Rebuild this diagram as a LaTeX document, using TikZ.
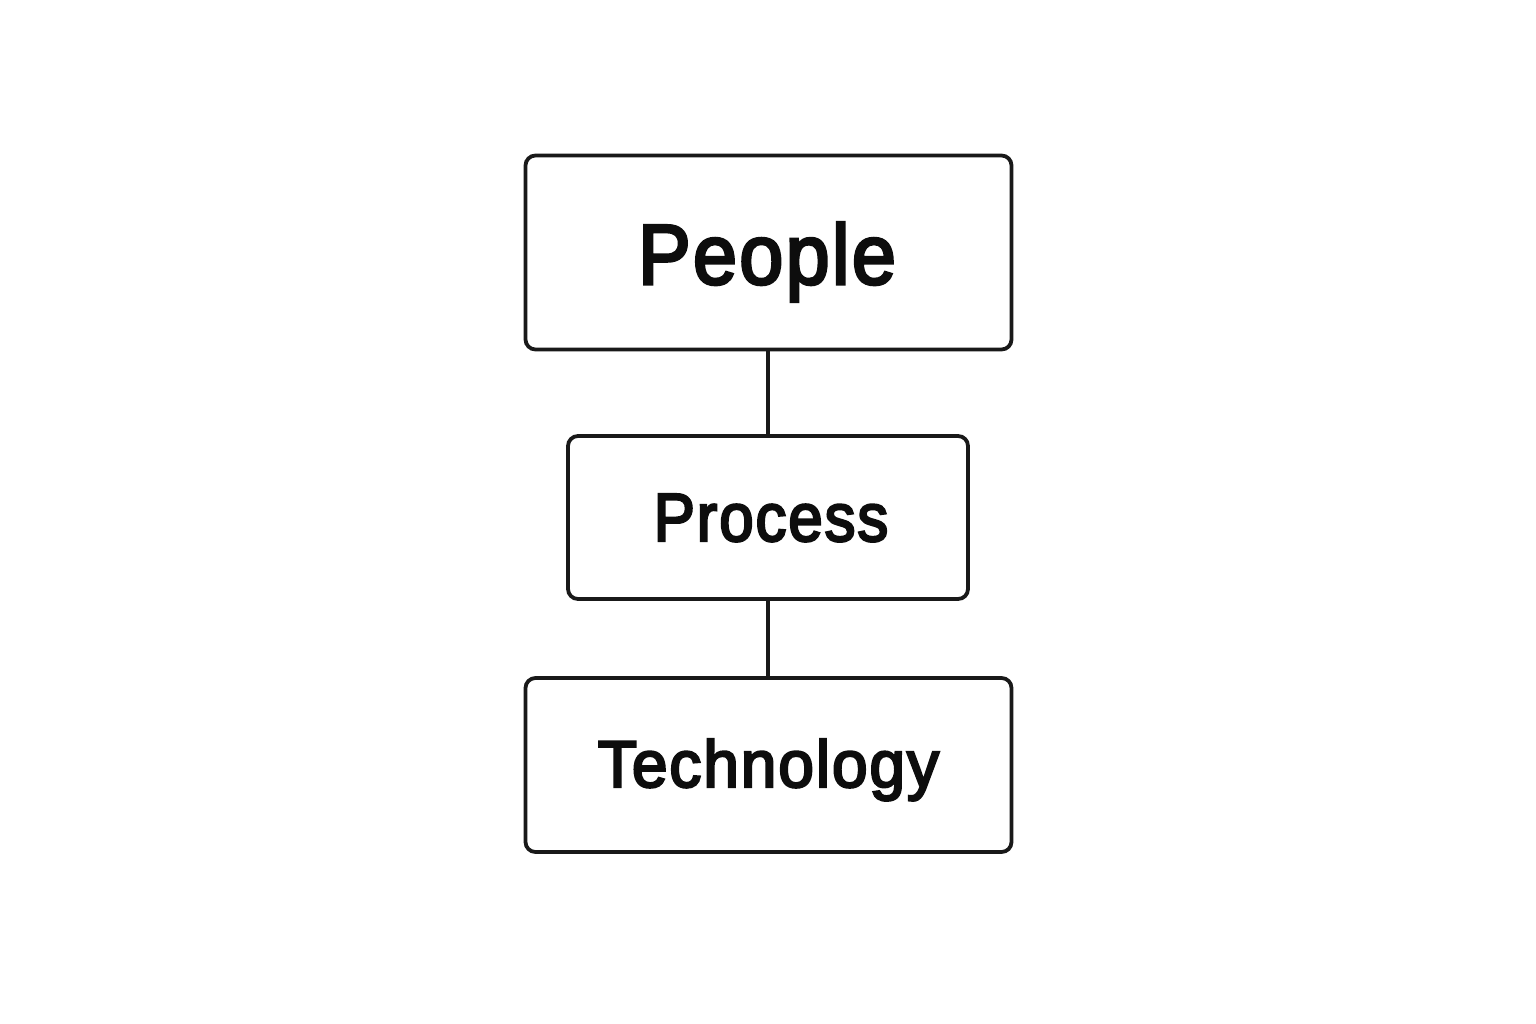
\documentclass[tikz,border=0pt]{standalone}
\usepackage{fontspec}
\setmainfont{Liberation Sans}
\newfontfamily\semibf[FakeBold=3.6,LetterSpace=3]{Liberation Sans}
\begin{document}
\begin{tikzpicture}[x=1pt,y=-1pt,
  boxnode/.style={draw=black!90,line width=3.8pt,rounded corners=10pt,rectangle,inner sep=0pt},
  lbl/.style={anchor=base,inner sep=0pt,text=black!95},
  conn/.style={draw=black!90,line width=3.6pt}]
\useasboundingbox[fill=white] (0,0) rectangle (1536,1024);
\node[boxnode,minimum width=486pt,minimum height=194pt] (people) at (768.5,252.5) {};
\node[boxnode,minimum width=400pt,minimum height=163pt] (process) at (768,517.5) {};
\node[boxnode,minimum width=486pt,minimum height=174pt] (tech) at (768.5,765) {};
\node[lbl,font=\fontsize{85}{90}\selectfont\semibf] (tpeople) at (767,284) {\scalebox{0.93}[1]{People}};
\node[lbl,font=\fontsize{68}{72}\selectfont\semibf] (tprocess) at (771,541) {\scalebox{0.91}[1]{Process}};
\node[lbl,font=\fontsize{66}{70}\selectfont\semibf] (ttech) at (768.5,787) {\scalebox{0.97}[1]{Technology}};
\draw[conn] (people.south -| 768,0) -- (process.north -| 768,0);
\draw[conn] (process.south -| 768,0) -- (tech.north -| 768,0);
\end{tikzpicture}
\end{document}
